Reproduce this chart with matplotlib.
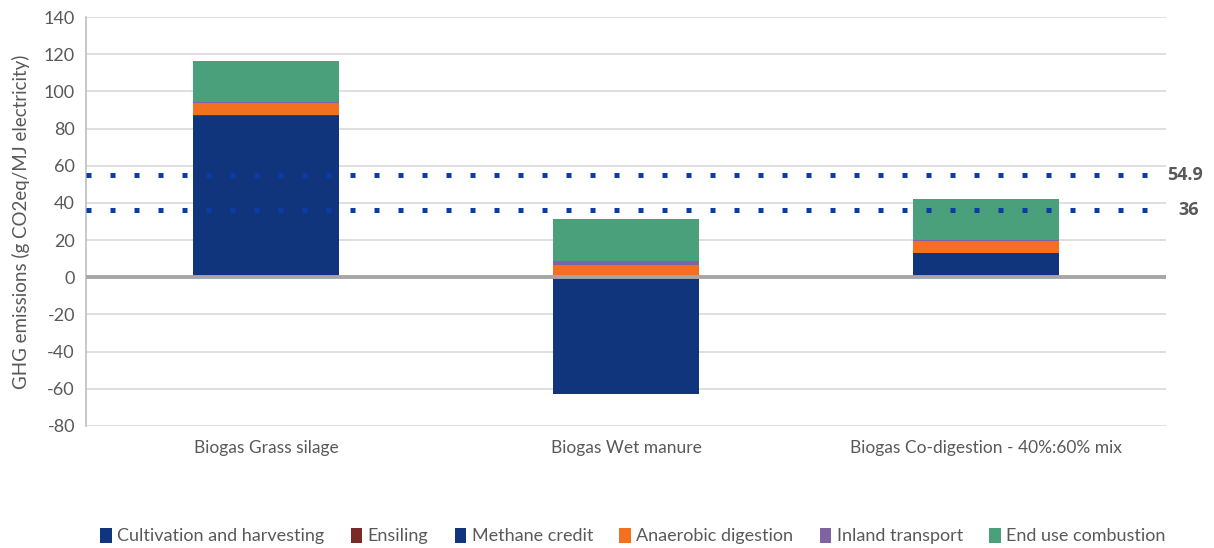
import matplotlib
matplotlib.use("Agg")
import matplotlib.pyplot as plt
import numpy as np
from matplotlib.patches import Patch

plt.rcParams['font.family'] = ['Lato', 'DejaVu Sans']

categories = ["Biogas Grass silage", "Biogas Wet manure", "Biogas Co-digestion - 40%:60% mix"]
series_names = ["Cultivation and harvesting", "Ensiling", "Methane credit",
                "Anaerobic digestion", "Inland transport", "End use combustion"]
cultivation = [86.8, 0.0, 13.3]
ensiling = [0.5, 0.0, 0.0]
methane_credit = [0.0, -62.6, 0.0]
anaerobic = [6.2, 6.4, 6.4]
inland = [0.6, 2.6, 0.3]
end_use = [22.4, 22.4, 22.2]
ref_values = [54.9, 36]
ref_labels = ["54.9", "36"]
yticks = list(range(-80, 141, 20))

colors = ["#10357c", "#7b2a2a", "#10357c", "#f37021", "#8064a2", "#4aa07a"]
text_color = "#595959"

fig = plt.figure(figsize=(12.14, 5.48), dpi=100)
ax = fig.add_axes([86/1214, 1-426/548, 1080/1214, 409/548])

x = np.arange(len(categories))
w = 0.403
pos_bottom = np.zeros(len(categories))
neg_bottom = np.zeros(len(categories))
data = [cultivation, ensiling, methane_credit, anaerobic, inland, end_use]
for vals, c, name in zip(data, colors, series_names):
    vals = np.array(vals, dtype=float)
    bottoms = np.where(vals >= 0, pos_bottom, neg_bottom)
    ax.bar(x, vals, w, bottom=bottoms, color=c, zorder=3, linewidth=0)
    pos_bottom += np.where(vals >= 0, vals, 0)
    neg_bottom += np.where(vals < 0, vals, 0)

ax.set_xlim(-0.5, 2.5)
ax.set_ylim(-80, 140)
ax.set_yticks(yticks)
ax.set_yticklabels([str(t) for t in yticks], color=text_color, fontsize=13)
ax.set_xticks(x)
ax.set_xticklabels(categories, color=text_color, fontsize=12.5)
ax.tick_params(axis='both', length=0)
ax.tick_params(axis='x', pad=10)
ax.tick_params(axis='y', pad=8)
ax.grid(axis='y', color='#d9d9d9', linewidth=1.2, zorder=0)
ax.axhline(0, color='#a6a6a6', linewidth=2.8, zorder=4)
for s in ['top', 'right', 'bottom']:
    ax.spines[s].set_visible(False)
ax.spines['left'].set_color('#bfbfbf')
ax.spines['left'].set_linewidth(1.2)

for v, lab in zip(ref_values, ref_labels):
    ax.axhline(v, color='#0a3ca8', linewidth=3.6, linestyle=(0, (1, 3.8)),
               dash_capstyle='butt', zorder=5)
    ax.annotate(lab, xy=(1.0, v), xycoords=('axes fraction', 'data'),
                xytext=(1 if lab == "54.9" else 9, 0), textcoords='offset points',
                ha='left', va='center', fontsize=13, fontweight='bold',
                family=['Open Sans', 'DejaVu Sans'], color=text_color)

ax.set_ylabel("GHG emissions (g CO2eq/MJ electricity)", color=text_color, fontsize=13.5, labelpad=10)

handles = [Patch(facecolor=c, edgecolor='none') for c in colors]
fig.legend(handles, series_names, loc='center', bbox_to_anchor=(633/1214, 1-536/548),
           ncol=6, frameon=False, fontsize=13, labelcolor=text_color,
           handlelength=0.65, handleheight=0.9, handletextpad=0.3, columnspacing=1.45)

fig.savefig("out.png", dpi=100)
